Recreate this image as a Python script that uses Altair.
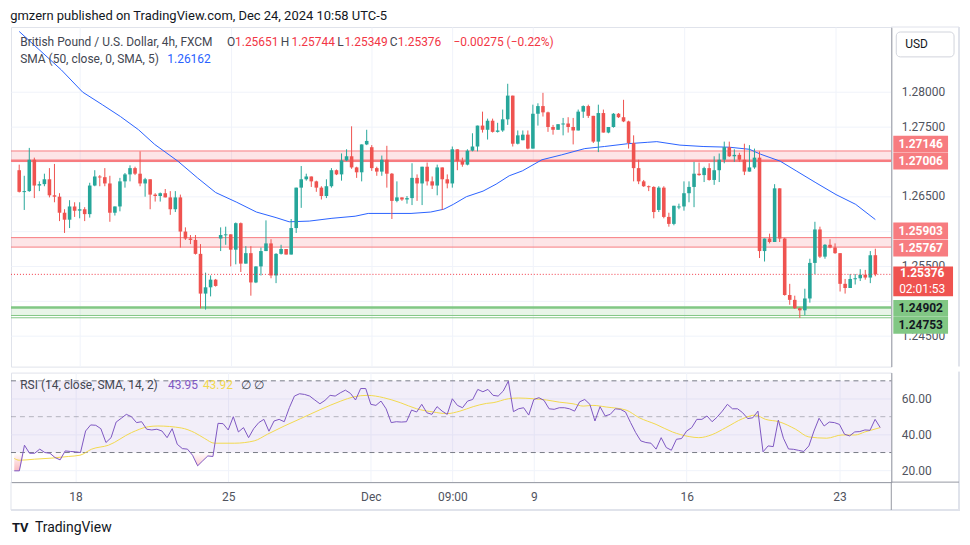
import altair as alt
import pandas as pd

FONT = "Roboto"
GREEN = "#26A69A"
RED = "#EF5350"
GRID = "#F0F3FA"
AXISLINE = "#9598A1"
FRAME = "#E0E3EB"
LBL = "#50535E"
TXT = "#131722"
PURPLE = "#7E57C2"
YELLOW = "#F2D94E"
BLUE = "#2962FF"

# ---------------- data ----------------
opens = [1.2687, 1.2656, 1.2657, 1.2702, 1.2665, 1.2667, 1.2674, 1.2651, 1.2649, 1.2626,
         1.2616, 1.2635, 1.2629, 1.2631, 1.2624, 1.2665, 1.2678, 1.2677, 1.2668, 1.2626,
         1.2635, 1.2671, 1.2681, 1.2690, 1.2682, 1.2668, 1.2674, 1.2652, 1.2650, 1.2654,
         1.2648, 1.2631, 1.2648, 1.2599, 1.2589, 1.2587, 1.2567, 1.2510, 1.2519, 1.2530,
         1.2589, 1.2594, 1.2595, 1.2573, 1.2611, 1.2553, 1.2568, 1.2526, 1.2549, 1.2571,
         1.2582, 1.2536, 1.2567, 1.2574, 1.2566, 1.2604, 1.2662, 1.2674, 1.2678, 1.2671,
         1.2662, 1.2650, 1.2664, 1.2687, 1.2681, 1.2701, 1.2707, 1.2691, 1.2684, 1.2724,
         1.2720, 1.2690, 1.2685, 1.2702, 1.2682, 1.2643, 1.2648, 1.2645, 1.2647, 1.2676,
         1.2668, 1.2692, 1.2671, 1.2665, 1.2691, 1.2674, 1.2668, 1.2717, 1.2700, 1.2695,
         1.2715, 1.2721, 1.2751, 1.2745, 1.2758, 1.2742, 1.2744, 1.2760, 1.2794, 1.2725,
         1.2730, 1.2738, 1.2718, 1.2768, 1.2779, 1.2770, 1.2749, 1.2745, 1.2753, 1.2754,
         1.2749, 1.2744, 1.2771, 1.2779, 1.2765, 1.2728, 1.2769, 1.2741, 1.2749, 1.2768,
         1.2763, 1.2757, 1.2726, 1.2690, 1.2671, 1.2664, 1.2663, 1.2630, 1.2662, 1.2620,
         1.2610, 1.2634, 1.2635, 1.2654, 1.2663, 1.2682, 1.2680, 1.2690, 1.2673, 1.2687,
         1.2702, 1.2720, 1.2707, 1.2709, 1.2702, 1.2685, 1.2691, 1.2705, 1.2571, 1.2589,
         1.2584, 1.2661, 1.2589, 1.2508, 1.2501, 1.2489, 1.2486, 1.2503, 1.2554, 1.2602,
         1.2563, 1.2580, 1.2576, 1.2568, 1.2524, 1.2518, 1.2531, 1.2532, 1.2537, 1.2533,
         1.25651]
highs = [1.2695, 1.2679, 1.2719, 1.2705, 1.2671, 1.2682, 1.2690, 1.2696, 1.2654, 1.2631,
         1.2644, 1.2641, 1.2641, 1.2634, 1.2669, 1.2687, 1.2680, 1.2690, 1.2679, 1.2635,
         1.2676, 1.2683, 1.2694, 1.2692, 1.2714, 1.2676, 1.2674, 1.2654, 1.2655, 1.2660,
         1.2657, 1.2657, 1.2652, 1.2605, 1.2594, 1.2594, 1.2581, 1.2540, 1.2536, 1.2531,
         1.2605, 1.2606, 1.2595, 1.2612, 1.2612, 1.2578, 1.2578, 1.2549, 1.2576, 1.2615,
         1.2588, 1.2568, 1.2580, 1.2574, 1.2617, 1.2662, 1.2693, 1.2682, 1.2678, 1.2672,
         1.2664, 1.2674, 1.2690, 1.2688, 1.2711, 1.2717, 1.2750, 1.2692, 1.2724, 1.2745,
         1.2723, 1.2692, 1.2708, 1.2722, 1.2683, 1.2671, 1.2648, 1.2650, 1.2697, 1.2681,
         1.2692, 1.2698, 1.2678, 1.2695, 1.2691, 1.2681, 1.2721, 1.2717, 1.2705, 1.2717,
         1.2740, 1.2751, 1.2771, 1.2761, 1.2761, 1.2755, 1.2774, 1.2811, 1.2794, 1.2744,
         1.2744, 1.2744, 1.2781, 1.2783, 1.2798, 1.2771, 1.2752, 1.2753, 1.2762, 1.2763,
         1.2762, 1.2774, 1.2780, 1.2781, 1.2765, 1.2781, 1.2774, 1.2749, 1.2769, 1.2769,
         1.2788, 1.2758, 1.2737, 1.2702, 1.2673, 1.2665, 1.2664, 1.2664, 1.2664, 1.2626,
         1.2636, 1.2639, 1.2671, 1.2671, 1.2699, 1.2698, 1.2692, 1.2697, 1.2707, 1.2711,
         1.2728, 1.2728, 1.2717, 1.2712, 1.2725, 1.2723, 1.2718, 1.2714, 1.2589, 1.2596,
         1.2667, 1.2661, 1.2590, 1.2524, 1.2507, 1.2490, 1.2517, 1.2560, 1.2613, 1.2606,
         1.2581, 1.2588, 1.2582, 1.2568, 1.2531, 1.2538, 1.2538, 1.2545, 1.2544, 1.2571,
         1.25744]
lows = [1.2655, 1.2630, 1.2656, 1.2647, 1.2657, 1.2664, 1.2648, 1.2641, 1.2614, 1.2597,
        1.2604, 1.2620, 1.2618, 1.2614, 1.2619, 1.2664, 1.2664, 1.2664, 1.2613, 1.2622,
        1.2628, 1.2662, 1.2671, 1.2680, 1.2664, 1.2649, 1.2631, 1.2642, 1.2642, 1.2648,
        1.2623, 1.2627, 1.2576, 1.2587, 1.2581, 1.2566, 1.2489, 1.2487, 1.2506, 1.2520,
        1.2571, 1.2580, 1.2549, 1.2552, 1.2541, 1.2553, 1.2507, 1.2525, 1.2536, 1.2571,
        1.2532, 1.2525, 1.2566, 1.2566, 1.2566, 1.2597, 1.2633, 1.2672, 1.2663, 1.2656,
        1.2645, 1.2647, 1.2662, 1.2680, 1.2672, 1.2700, 1.2689, 1.2676, 1.2671, 1.2723,
        1.2686, 1.2679, 1.2679, 1.2662, 1.2617, 1.2641, 1.2643, 1.2639, 1.2637, 1.2643,
        1.2637, 1.2665, 1.2660, 1.2651, 1.2630, 1.2661, 1.2662, 1.2687, 1.2692, 1.2694,
        1.2714, 1.2714, 1.2741, 1.2731, 1.2741, 1.2741, 1.2742, 1.2752, 1.2721, 1.2724,
        1.2730, 1.2717, 1.2718, 1.2751, 1.2764, 1.2742, 1.2738, 1.2745, 1.2737, 1.2741,
        1.2724, 1.2744, 1.2762, 1.2762, 1.2726, 1.2713, 1.2741, 1.2740, 1.2748, 1.2762,
        1.2756, 1.2718, 1.2671, 1.2667, 1.2663, 1.2657, 1.2618, 1.2627, 1.2618, 1.2606,
        1.2608, 1.2631, 1.2629, 1.2641, 1.2634, 1.2679, 1.2670, 1.2672, 1.2666, 1.2670,
        1.2697, 1.2706, 1.2699, 1.2699, 1.2680, 1.2685, 1.2689, 1.2561, 1.2556, 1.2582,
        1.2584, 1.2584, 1.2507, 1.2494, 1.2488, 1.2475, 1.2479, 1.2497, 1.2538, 1.2561,
        1.2560, 1.2575, 1.2567, 1.2513, 1.2510, 1.2518, 1.2523, 1.2528, 1.2530, 1.2525,
        1.25349]
closes = [1.2656, 1.2657, 1.2702, 1.2665, 1.2667, 1.2674, 1.2651, 1.2649, 1.2626, 1.2616,
          1.2635, 1.2629, 1.2631, 1.2624, 1.2665, 1.2678, 1.2677, 1.2668, 1.2626, 1.2635,
          1.2671, 1.2681, 1.2690, 1.2682, 1.2668, 1.2674, 1.2652, 1.2650, 1.2654, 1.2648,
          1.2631, 1.2648, 1.2599, 1.2589, 1.2587, 1.2567, 1.2510, 1.2519, 1.2530, 1.2521,
          1.2594, 1.2595, 1.2573, 1.2611, 1.2553, 1.2568, 1.2526, 1.2549, 1.2571, 1.2582,
          1.2536, 1.2567, 1.2574, 1.2566, 1.2604, 1.2662, 1.2674, 1.2678, 1.2671, 1.2662,
          1.2650, 1.2664, 1.2687, 1.2681, 1.2701, 1.2707, 1.2691, 1.2684, 1.2724, 1.2729,
          1.2690, 1.2685, 1.2702, 1.2682, 1.2643, 1.2648, 1.2645, 1.2647, 1.2676, 1.2668,
          1.2692, 1.2671, 1.2665, 1.2691, 1.2674, 1.2668, 1.2717, 1.2700, 1.2695, 1.2715,
          1.2721, 1.2751, 1.2745, 1.2758, 1.2742, 1.2744, 1.2760, 1.2794, 1.2725, 1.2737,
          1.2738, 1.2718, 1.2768, 1.2779, 1.2770, 1.2749, 1.2745, 1.2753, 1.2754, 1.2749,
          1.2744, 1.2771, 1.2779, 1.2765, 1.2728, 1.2769, 1.2741, 1.2749, 1.2768, 1.2763,
          1.2757, 1.2726, 1.2690, 1.2671, 1.2664, 1.2663, 1.2627, 1.2662, 1.2620, 1.2610,
          1.2636, 1.2635, 1.2654, 1.2663, 1.2682, 1.2680, 1.2690, 1.2673, 1.2687, 1.2702,
          1.2720, 1.2707, 1.2709, 1.2702, 1.2685, 1.2691, 1.2705, 1.2571, 1.2589, 1.2584,
          1.2661, 1.2589, 1.2508, 1.2501, 1.2489, 1.2486, 1.2503, 1.2554, 1.2602, 1.2563,
          1.2580, 1.2576, 1.2568, 1.2524, 1.2518, 1.2531, 1.2532, 1.2537, 1.2533, 1.2565,
          1.25376]
rsi = [19.8, 19.8, 34.1, 29.6, 29.6, 31.9, 30.0, 29.6, 27.2, 25.9,
       30.9, 30.6, 30.4, 30.0, 42.0, 45.4, 45.2, 43.3, 35.6, 38.3,
       47.0, 49.1, 51.3, 50.0, 46.7, 47.2, 43.0, 42.6, 43.0, 42.0,
       38.3, 43.3, 34.6, 32.2, 31.9, 28.5, 22.6, 25.4, 28.1, 27.8,
       46.3, 46.1, 42.6, 50.0, 41.5, 43.9, 38.3, 43.3, 46.7, 48.5,
       41.9, 47.6, 48.5, 47.2, 55.0, 61.5, 62.8, 62.4, 61.5, 59.3,
       57.2, 59.1, 61.9, 61.5, 63.3, 64.8, 63.0, 59.3, 65.7, 65.7,
       56.9, 56.3, 58.7, 54.4, 46.7, 47.2, 47.0, 47.2, 53.7, 52.6,
       56.9, 52.2, 51.3, 55.6, 53.1, 51.3, 60.0, 56.3, 55.0, 58.7,
       59.6, 65.2, 63.9, 65.2, 61.9, 61.5, 64.3, 69.8, 52.8, 54.4,
       55.0, 50.9, 59.6, 60.6, 59.1, 54.4, 54.1, 55.0, 55.0, 54.4,
       53.1, 58.3, 59.6, 56.9, 47.6, 55.6, 50.4, 51.3, 54.4, 54.1,
       52.6, 46.7, 41.1, 36.5, 35.6, 35.2, 31.9, 38.3, 32.8, 31.3,
       37.4, 37.8, 42.0, 43.9, 48.5, 48.5, 50.4, 47.2, 49.8, 53.1,
       56.9, 54.4, 54.4, 52.2, 48.9, 49.4, 53.1, 30.4, 33.7, 33.3,
       48.1, 38.0, 32.0, 31.8, 31.2, 30.6, 33.7, 42.0, 49.1, 44.8,
       47.0, 46.7, 45.7, 40.2, 39.3, 41.5, 41.7, 42.6, 42.4, 48.5,
       43.95]
sma_idx = [0, 8.35, 12.6, 16.5, 20.1, 23.7, 26.9, 31.5, 35.4, 39.0,
           43.2, 47.1, 51.0, 53.6, 57.6, 62.1, 66.7, 69.3, 73.8, 77.8,
           81.7, 84.3, 86.2, 88.8, 92.1, 94.7, 97.3, 99.9, 103.8, 107.7,
           112.3, 116.2, 120.8, 124.7, 126.6, 131.2, 135.8, 141.0, 145.0, 147.2,
           151.1, 154.3, 158.2, 162.2, 166.1, 170]
sma_val = [1.2886, 1.2831, 1.2799, 1.2781, 1.2764, 1.2745, 1.2724, 1.2700, 1.2676, 1.2655,
           1.2641, 1.2627, 1.2619, 1.2613, 1.2614, 1.2618, 1.2621, 1.2625, 1.2625, 1.2625,
           1.2627, 1.2631, 1.2638, 1.2649, 1.2657, 1.2667, 1.2679, 1.2686, 1.2702, 1.2709,
           1.2718, 1.2721, 1.2725, 1.2727, 1.2728, 1.2723, 1.2721, 1.2720, 1.2717, 1.2710,
           1.2700, 1.2686, 1.2669, 1.2652, 1.2638, 1.26162]
rsima_idx = [0, 1, 4, 7.4, 10.6, 12.9, 15.2, 18.5, 23, 26.3,
             28.2, 32.8, 35.4, 37.4, 39.3, 43.2, 47.1, 49.7, 53, 56.2,
             60.2, 64.1, 66.7, 69.3, 72.5, 75.8, 79, 82.3, 84.9, 87.5,
             90.1, 92.7, 94, 97, 99, 101.9, 104.5, 107, 109.7, 111.7,
             113.6, 116.2, 120.1, 122.7, 126, 129.2, 132.5, 134.4, 137, 139.7,
             143, 145.5, 147.5, 150.1, 153.4, 156, 159.5, 162.5, 165.1, 167,
             170]
rsima_val = [26.7, 25.7, 26.3, 26.9, 27.8, 28.5, 31.9, 34.1, 41.1, 44.4,
             44.8, 43.7, 41.1, 37.8, 35.2, 35.2, 36.5, 40.2, 44.8, 48.9,
             54.1, 58.7, 61.1, 61.9, 60.6, 57.8, 54.4, 52.6, 51.7, 53.1,
             55.6, 57.4, 57.8, 60.0, 60.4, 60.0, 59.3, 58.1, 57.2, 55.9,
             56.3, 55.4, 53.7, 49.4, 45.7, 41.5, 38.9, 38.3, 40.0, 43.9,
             48.9, 50.9, 48.5, 47.2, 43.0, 38.7, 38.0, 39.8, 39.8, 41.5,
             43.92]
tick_idx = [12, 42, 70, 86, 102, 132, 162]
tick_lbl = ["18", "25", "Dec", "09:00", "9", "16", "23"]
price_ticks = [1.245, 1.25, 1.255, 1.26, 1.265, 1.27, 1.275, 1.28]
hidden_price_labels = [1.25, 1.26, 1.27]   # covered by the zone price tags in the reference
rsi_ticks = [20, 40, 60]
res_lo = [1.27006, 1.25767]
res_hi = [1.27146, 1.25903]
sup_lo = [1.24786]
sup_hi = [1.24902]
sup_line = [1.24753]
rsi_levels = [30, 50, 70]

# ---------------- layout ----------------
W, H1, H2 = 884, 341, 110
P_TOP = 1.28924
xscale = alt.Scale(domain=[-0.645, 172.18], nice=False, zero=False)
pscale = alt.Scale(domain=[P_TOP - H1 / 7000.0, P_TOP], nice=False, zero=False)
rscale = alt.Scale(domain=[13.5, 74.6], nice=False, zero=False)

x_top_axis = alt.Axis(values=tick_idx, grid=True, gridColor=GRID, labels=False,
                      ticks=False, domain=False, title=None, minExtent=0, maxExtent=0,
                      labelPadding=0, offset=0)
label_expr = "".join(f"datum.value == {v} ? '{t}' : " for v, t in zip(tick_idx, tick_lbl)) + "''"
x_bot_axis = alt.Axis(values=tick_idx, labelExpr=label_expr, grid=True, gridColor=GRID,
                      ticks=False, domain=True, domainColor=AXISLINE, labelPadding=9,
                      labelFont=FONT, labelFontSize=12, labelColor=LBL, labelFlush=False,
                      labelOverlap=False, title=None)
p_label_expr = ("(" + " || ".join(f"abs(datum.value - {v}) < 1e-6" for v in hidden_price_labels)
                + ") ? '' : format(datum.value, '.5f')")
p_axis = alt.Axis(orient="right", values=price_ticks, labelExpr=p_label_expr, title=None, grid=True,
                  gridColor=GRID, ticks=False, domain=True, domainColor=AXISLINE,
                  labelPadding=10, labelFont=FONT, labelFontSize=12, labelColor=LBL,
                  labelOverlap=False, labelBound=False)
r_axis = alt.Axis(orient="right", values=rsi_ticks, format=".2f", title=None, grid=True,
                  gridColor=GRID, ticks=False, domain=True, domainColor=AXISLINE,
                  labelPadding=10, labelFont=FONT, labelFontSize=12, labelColor=LBL,
                  labelOverlap=False)


def PX(f):
    return alt.X(f, type="quantitative", scale=xscale, axis=x_top_axis)


def PY(f):
    return alt.Y(f, type="quantitative", scale=pscale, axis=p_axis)


def RX(f):
    return alt.X(f, type="quantitative", scale=xscale, axis=x_bot_axis)


def RY(f):
    return alt.Y(f, type="quantitative", scale=rscale, axis=r_axis)


def txt(s, x, y, color, size=12, weight="normal", align="left"):
    return alt.Chart(pd.DataFrame({"t": [s]})).mark_text(
        align=align, baseline="middle", font=FONT, fontSize=size, fontWeight=weight,
        color=color).encode(x=alt.value(x), y=alt.value(y), text="t:N")


# ---------------- price pane ----------------
cdf = pd.DataFrame({"i": list(range(len(opens))), "o": opens, "h": highs, "l": lows, "c": closes})
cbase = alt.Chart(cdf).transform_calculate(
    dir="datum.c >= datum.o ? 'up' : 'down'",
    top="max(datum.o, datum.c)",
    bot="min(datum.o, datum.c, max(datum.o, datum.c) - 0.00014)",
)
ccolor = alt.Color("dir:N", scale=alt.Scale(domain=["up", "down"], range=[GREEN, RED]), legend=None)
wicks = cbase.mark_rule(strokeWidth=1).encode(x=PX("i"), y=PY("l"), y2="h:Q", color=ccolor)
bodies = cbase.mark_bar(size=3.6).encode(x=PX("i"), y=PY("top"), y2="bot:Q", color=ccolor)

res_df = pd.DataFrame({"lo": res_lo, "hi": res_hi})
sup_df = pd.DataFrame({"lo": sup_lo, "hi": sup_hi})
res_rect = alt.Chart(res_df).mark_rect(color="rgba(242,54,69,0.13)").encode(
    x=alt.value(0), x2=alt.value(W), y=PY("lo"), y2="hi:Q")
sup_rect = alt.Chart(sup_df).mark_rect(color="rgba(76,175,80,0.13)").encode(
    x=alt.value(0), x2=alt.value(W), y=PY("lo"), y2="hi:Q")
res_top = alt.Chart(res_df).mark_rule(color="#F77C80", strokeWidth=1).encode(
    x=alt.value(0), x2=alt.value(W), y=PY("hi"))
res_bot_thick = alt.Chart(res_df.iloc[:1]).mark_rule(color="#F77C80", strokeWidth=2.5).encode(
    x=alt.value(0), x2=alt.value(W), y=PY("lo"))
res_bot_thin = alt.Chart(res_df.iloc[1:]).mark_rule(color="#F77C80", strokeWidth=1).encode(
    x=alt.value(0), x2=alt.value(W), y=PY("lo"))
sup_top = alt.Chart(sup_df).mark_rule(color="#81C784", strokeWidth=2.5).encode(
    x=alt.value(0), x2=alt.value(W), y=PY("hi"))
sup_bot = alt.Chart(sup_df).mark_rule(color="#81C784", strokeWidth=1).encode(
    x=alt.value(0), x2=alt.value(W), y=PY("lo"))
sup_extra = alt.Chart(pd.DataFrame({"v": sup_line})).mark_rule(color="#81C784", strokeWidth=1).encode(
    x=alt.value(0), x2=alt.value(W), y=PY("v"))

sma = alt.Chart(pd.DataFrame({"i": sma_idx, "v": sma_val})).mark_line(
    color=BLUE, strokeWidth=1, clip=True).encode(x=PX("i"), y=PY("v"))

last_df = pd.DataFrame({"v": [closes[-1]]})
cur_line = alt.Chart(last_df).mark_rule(color="#F23645", strokeWidth=1, strokeDash=[1, 2]).encode(
    x=alt.value(0), x2=alt.value(W), y=PY("v"))

# right-side price tags
tag_layers = []
tag_specs = [
    (res_hi[0], -6.8, "#F77C80", "white"),
    (res_lo[0], 0.4, "#F77C80", "white"),
    (res_hi[1], -6.8, "#F77C80", "white"),
    (res_lo[1], 1.0, "#F77C80", "white"),
    (sup_hi[0], 1.1, "#81C784", TXT),
    (sup_line[0], 7.7, "#81C784", TXT),
]
for v, dy, bg, fg in tag_specs:
    d = pd.DataFrame({"v": [v], "t": [f"{v:.5f}"]})
    tag_layers.append(alt.Chart(d).mark_rect(color=bg, yOffset=dy - 8.4, y2Offset=dy + 8.4).encode(
        x=alt.value(886), x2=alt.value(941), y=PY("v"), y2="v:Q"))
    tag_layers.append(alt.Chart(d).mark_text(color=fg, font=FONT, fontSize=12, fontWeight="bold",
                                             align="center", baseline="middle", dy=dy).encode(
        x=alt.value(913.5), y=PY("v"), text="t:N"))
cur_d = pd.DataFrame({"v": [closes[-1]], "t": [f"{closes[-1]:.5f}"], "cd": ["02:01:53"]})
tag_layers.append(alt.Chart(cur_d).mark_rect(color=RED, yOffset=-8, y2Offset=22).encode(
    x=alt.value(886), x2=alt.value(946), y=PY("v"), y2="v:Q"))
tag_layers.append(alt.Chart(cur_d).mark_text(color="white", font=FONT, fontSize=12, fontWeight="bold",
                                             align="center", baseline="middle", dy=-1).encode(
    x=alt.value(915), y=PY("v"), text="t:N"))
tag_layers.append(alt.Chart(cur_d).mark_text(color="white", font=FONT, fontSize=12,
                                             align="center", baseline="middle", dy=14.5).encode(
    x=alt.value(915), y=PY("v"), text="cd:N"))

usd_box = alt.Chart(pd.DataFrame({"t": ["USD"]})).mark_rect(
    fill="white", stroke="#D1D4DC", strokeWidth=1, cornerRadius=4).encode(
    x=alt.value(889), x2=alt.value(947), y=alt.value(5), y2=alt.value(30))
usd_txt = txt("USD", 898, 17.5, TXT, size=12)

legend_layers = [
    txt("British Pound / U.S. Dollar, 4h, FXCM", 9.3, 15.3, "#434651"),
    txt("O", 217, 15.3, "#434651"), txt(f"{opens[-1]:.5f}", 225, 15.3, "#F23645"),
    txt("H", 271, 15.3, "#434651"), txt(f"{highs[-1]:.5f}", 281.7, 15.3, "#F23645"),
    txt("L", 327.7, 15.3, "#434651"), txt(f"{lows[-1]:.5f}", 334.8, 15.3, "#F23645"),
    txt("C", 380.3, 15.3, "#434651"), txt(f"{closes[-1]:.5f}", 388.5, 15.3, "#F23645"),
    txt("\u22120.00275 (\u22120.22%)", 444.3, 15.3, "#F23645"),
    txt("SMA (50, close, 0, SMA, 5)", 9.3, 32.3, "#434651"),
    txt(f"{sma_val[-1]:.5f}", 157, 32.3, BLUE),
]

frame_top = [
    alt.Chart(pd.DataFrame({"a": [0]})).mark_rule(color=FRAME, strokeWidth=1).encode(
        x=alt.value(W), x2=alt.value(952), y=alt.value(0)),
    alt.Chart(pd.DataFrame({"a": [0]})).mark_rule(color=FRAME, strokeWidth=2).encode(
        x=alt.value(952), y=alt.value(0), y2=alt.value(H1)),
]

top = alt.layer(
    res_rect, sup_rect, res_top, res_bot_thick, res_bot_thin, sup_top, sup_bot, sup_extra,
    sma, wicks, bodies, cur_line, *tag_layers, usd_box, usd_txt, *legend_layers, *frame_top,
).properties(width=W, height=H1)

# ---------------- RSI pane ----------------
rdf = pd.DataFrame({"i": list(range(len(rsi))), "r": rsi})
band = alt.Chart(pd.DataFrame({"lo": [rsi_levels[0]], "hi": [rsi_levels[2]]})).mark_rect(
    color="rgba(126,87,194,0.1)").encode(x=alt.value(0), x2=alt.value(W), y=RY("lo"), y2="hi:Q")
outer = alt.Chart(pd.DataFrame({"v": [rsi_levels[0], rsi_levels[2]]})).mark_rule(
    color="#787B86", strokeWidth=1, strokeDash=[5, 4]).encode(x=alt.value(0), x2=alt.value(W), y=RY("v"))
mid = alt.Chart(pd.DataFrame({"v": [rsi_levels[1]]})).mark_rule(
    color="rgba(120,123,134,0.5)", strokeWidth=1, strokeDash=[5, 4]).encode(
    x=alt.value(0), x2=alt.value(W), y=RY("v"))
oversold = alt.Chart(rdf).transform_calculate(
    lo=f"min(datum.r, {rsi_levels[0]})", base=f"{rsi_levels[0]}").mark_area(
    color=alt.Gradient(gradient="linear",
                       stops=[alt.GradientStop(color="rgba(242,54,69,0)", offset=0),
                              alt.GradientStop(color="rgba(242,54,69,0.35)", offset=1)],
                       x1=0, x2=0, y1=0, y2=1)).encode(x=RX("i"), y=RY("lo"), y2="base:Q")
rsi_line = alt.Chart(rdf).mark_line(color=PURPLE, strokeWidth=1).encode(x=RX("i"), y=RY("r"))
rsima_line = alt.Chart(pd.DataFrame({"i": rsima_idx, "v": rsima_val})).mark_line(
    color=YELLOW, strokeWidth=1, interpolate="monotone").encode(x=RX("i"), y=RY("v"))

rsi_legend = [
    txt("RSI (14, close, SMA, 14, 2)", 9.3, 12.5, "#434651"),
    txt(f"{rsi[-1]:.2f}", 157.7, 12.5, PURPLE),
    txt(f"{rsima_val[-1]:.2f}", 192.7, 12.5, YELLOW),
    txt("\u2205  \u2205", 231, 12.5, "#434651"),
]
brand = [
    txt("TV", 1, 156.5, TXT, size=13, weight="bold"),
    txt("TradingView", 24, 156.5, TXT, size=14),
]
a0 = pd.DataFrame({"a": [0]})
FB = H2 + 28
frame_bot = [
    alt.Chart(a0).mark_rule(color=FRAME, strokeWidth=2).encode(
        x=alt.value(952), y=alt.value(-1), y2=alt.value(FB)),
    alt.Chart(a0).mark_rule(color=FRAME, strokeWidth=2).encode(
        x=alt.value(0), x2=alt.value(953), y=alt.value(FB)),
    alt.Chart(a0).mark_rule(color=FRAME, strokeWidth=1).encode(
        x=alt.value(0), y=alt.value(H2), y2=alt.value(FB)),
    alt.Chart(a0).mark_rule(color=AXISLINE, strokeWidth=1).encode(
        x=alt.value(W), y=alt.value(H2), y2=alt.value(FB)),
    alt.Chart(a0).mark_rule(color=AXISLINE, strokeWidth=1).encode(
        x=alt.value(W), x2=alt.value(952), y=alt.value(H2)),
]

bottom = alt.layer(
    band, outer, mid, oversold, rsima_line, rsi_line, *rsi_legend, *brand, *frame_bot,
).properties(width=W, height=H2)

chart = alt.vconcat(top, bottom, spacing=1).properties(
    title=alt.TitleParams("gmzern published on TradingView.com, Dec 24, 2024 10:58 UTC-5",
                          anchor="start", font=FONT, fontSize=13, fontWeight="normal",
                          color=TXT, offset=3, dx=1),
    padding={"left": 1, "top": 0, "right": 0, "bottom": 0},
).configure_view(stroke=FRAME, strokeWidth=1)

chart.save("out.html", embed_options={"renderer": "svg", "actions": False})
